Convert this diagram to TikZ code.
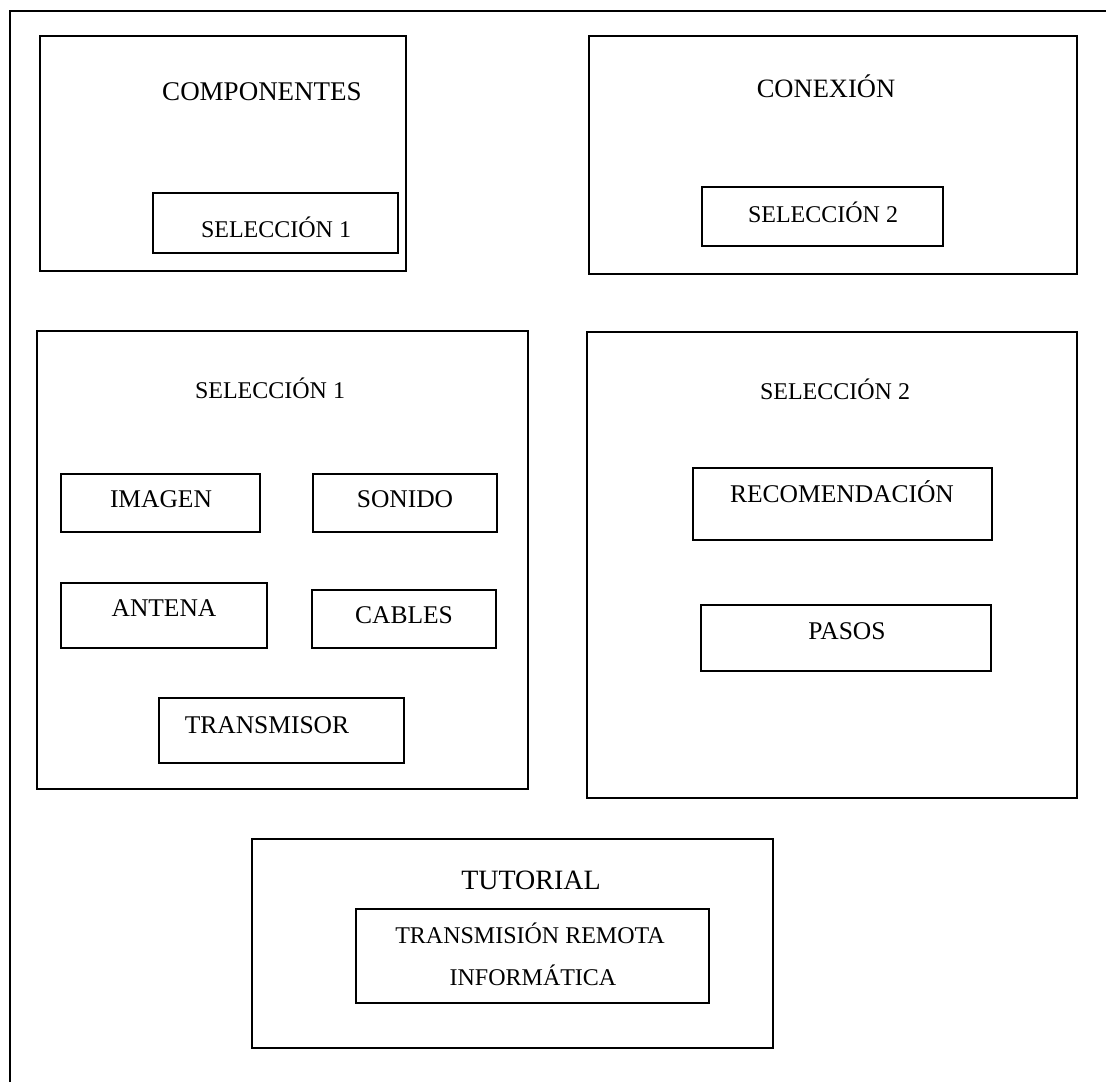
\documentclass[tikz,border=0pt]{standalone}
\usepackage{fontspec}
\setmainfont{Liberation Serif}
\begin{document}
\begin{tikzpicture}[x=1pt,y=-1pt,
  frame/.style={draw=black, line width=1.8pt, rectangle, inner sep=0pt},
  panel/.style={draw=black, line width=1.6pt, rectangle, inner sep=0pt},
  item/.style={draw=black, line width=1.4pt, rectangle, inner sep=0pt},
  lbl/.style={anchor=base, inner sep=0pt, font=\fontsize{25.5}{30}\selectfont},
  sellbl/.style={lbl, font=\fontsize{24}{29}\selectfont}]
\useasboundingbox (0,0) rectangle (1106,1082);

% outer frame (open on the right and bottom)
\coordinate (fb) at (10,1082);
\coordinate (ft) at (10,11);
\coordinate (fr) at (1106,11);
\draw[line width=1.8pt] (fb) -- (ft) -- (fr);

% top row panels
\node[panel, minimum width=366pt, minimum height=235pt] (comp) at (223,153.5) {};
\node[lbl, font=\fontsize{27}{32}\selectfont] (compT) at (262,100) {COMPONENTES};
\node[item, minimum width=245pt, minimum height=60pt] (sel1btn) at (275.5,223) {};
\node[sellbl] (sel1btnT) at (276,237) {SELECCIÓN 1};

\node[panel, minimum width=488pt, minimum height=238pt] (conex) at (833,155) {};
\node[lbl, font=\fontsize{26.5}{31}\selectfont] (conexT) at (826,97) {CONEXIÓN};
\node[item, minimum width=241pt, minimum height=59pt] (sel2btn) at (822.5,216.5) {};
\node[sellbl] (sel2btnT) at (823,222) {SELECCIÓN 2};

% middle row: selection 1
\node[panel, minimum width=491pt, minimum height=458pt] (selA) at (282.5,560) {};
\node[sellbl] (selAT) at (270,398) {SELECCIÓN 1};
\node[item, minimum width=199pt, minimum height=58pt] (imagen) at (160.5,503) {};
\node[lbl] (imagenT) at (161,507) {IMAGEN};
\node[item, minimum width=184pt, minimum height=58pt] (sonido) at (405,503) {};
\node[lbl] (sonidoT) at (405,507) {SONIDO};
\node[item, minimum width=206pt, minimum height=65pt] (antena) at (164,615.5) {};
\node[lbl] (antenaT) at (164,616) {ANTENA};
\node[item, minimum width=184pt, minimum height=58pt] (cables) at (404,619) {};
\node[lbl] (cablesT) at (404,623) {CABLES};
\node[item, minimum width=245pt, minimum height=65pt] (transm) at (281.5,730.5) {};
\node[lbl] (transmT) at (267,733) {TRANSMISOR};

% middle row: selection 2
\node[panel, minimum width=490pt, minimum height=466pt] (selB) at (832,565) {};
\node[sellbl] (selBT) at (835,399) {SELECCIÓN 2};
\node[item, minimum width=299pt, minimum height=72pt] (recom) at (842.5,504) {};
\node[lbl] (recomT) at (842,502) {RECOMENDACIÓN};
\node[item, minimum width=290pt, minimum height=66pt] (pasos) at (846,638) {};
\node[lbl] (pasosT) at (847,639) {PASOS};

% bottom panel
\node[panel, minimum width=521pt, minimum height=209pt] (tut) at (512.5,943.5) {};
\node[lbl, font=\fontsize{28}{33}\selectfont] (tutT) at (531,889) {TUTORIAL};
\node[item, minimum width=353pt, minimum height=94pt] (trm) at (532.5,956) {};
\node[lbl, font=\fontsize{24}{29}\selectfont] (trmA) at (530,943) {TRANSMISIÓN REMOTA};
\node[lbl, font=\fontsize{24}{29}\selectfont] (trmB) at (533,985) {INFORMÁTICA};
\end{tikzpicture}
\end{document}
